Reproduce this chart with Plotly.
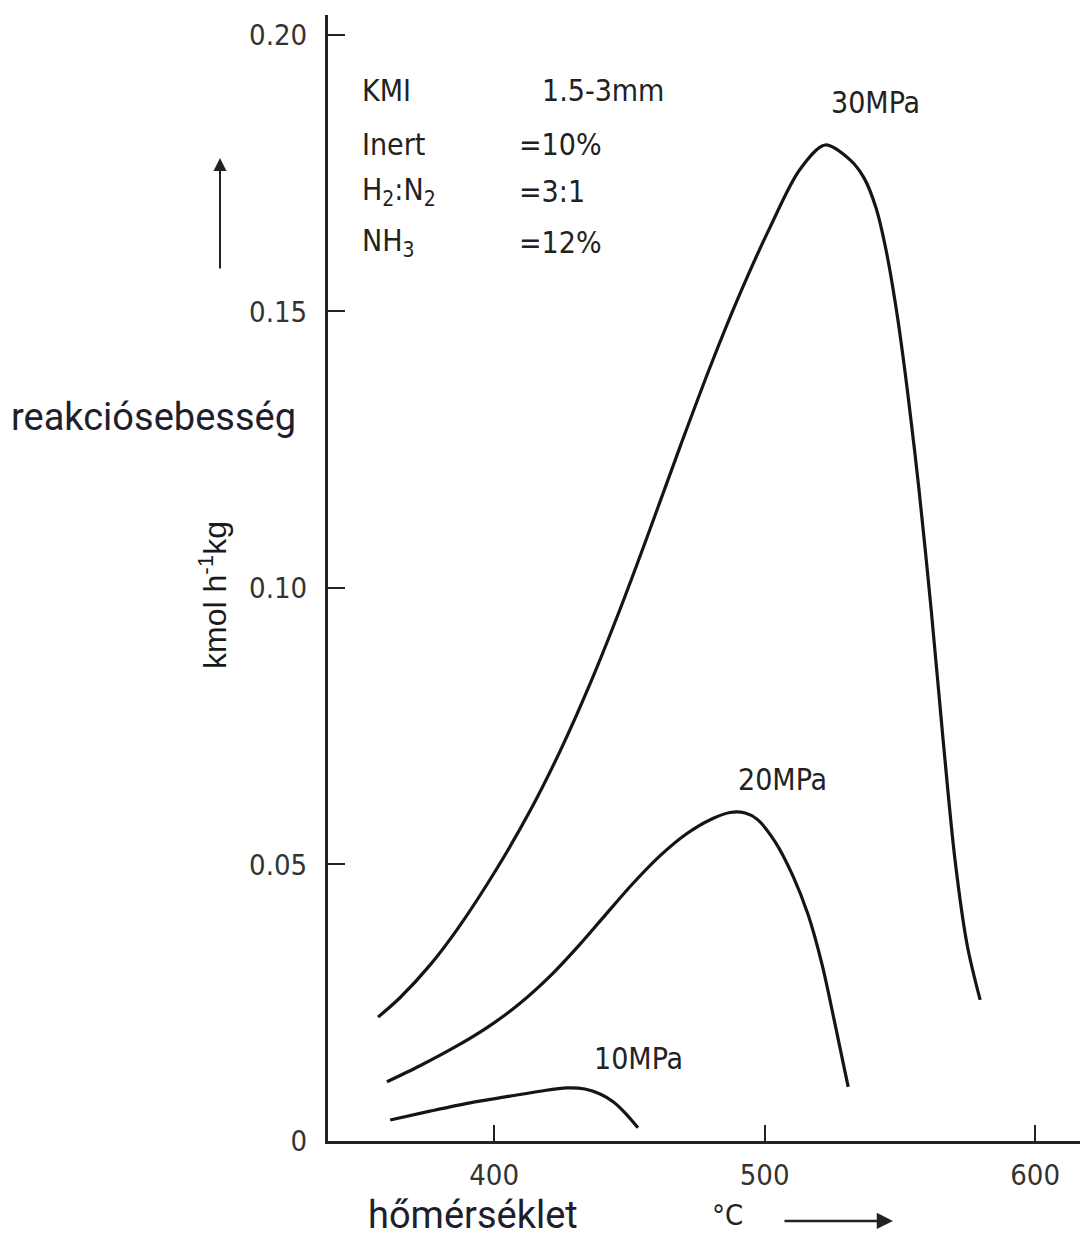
import plotly.graph_objects as go

# Reaction rate of ammonia synthesis vs. temperature at three pressures
temp_30 = [357.1, 365.2, 376.3, 386.7, 400.7, 413.3, 424.4, 435.5, 446.6, 457.7, 468.8,
           479.9, 490.9, 502.0, 513.1, 522.4, 531.6, 536.8, 541.2,
           544.9, 549.0, 553.0, 557.1, 561.6, 566.0, 570.4, 574.9, 579.7]
rate_30 = [0.0224, 0.0259, 0.0318, 0.0385, 0.0490, 0.0597, 0.0705, 0.0827, 0.0962, 0.1107, 0.1256,
           0.1400, 0.1532, 0.1652, 0.1757, 0.1801, 0.1774, 0.1741, 0.1687,
           0.1611, 0.1494, 0.1349, 0.1177, 0.0960, 0.0725, 0.0508, 0.0354, 0.0255]

temp_20 = [360.4, 372.6, 385.6, 397.4, 409.6, 420.7, 431.8, 441.0, 451.4, 461.4,
           471.3, 479.9, 487.2, 492.8, 497.2, 503.9, 510.5, 516.1, 521.3, 526.1, 530.9]
rate_20 = [0.0107, 0.0136, 0.0170, 0.0205, 0.0249, 0.0298, 0.0356, 0.0408, 0.0466, 0.0516,
           0.0556, 0.0581, 0.0594, 0.0593, 0.0582, 0.0541, 0.0479, 0.0409, 0.0318, 0.0210, 0.0098]

temp_10 = [361.6, 376.3, 391.1, 405.9, 417.0, 427.0, 433.6, 439.2, 444.0, 448.4, 453.2]
rate_10 = [0.0038, 0.0054, 0.0069, 0.0081, 0.0090, 0.0096, 0.0094, 0.0085, 0.0071, 0.0051, 0.0024]

pressure_labels = ["30MPa", "20MPa", "10MPa"]
label_pos = [(540.9, 0.1877), (506.5, 0.0653), (453.2, 0.0150)]

x_ticks = [400, 500, 600]
y_ticks = [0, 0.05, 0.10, 0.15, 0.20]
y_tick_text = ["0", "0.05", "0.10", "0.15", "0.20"]

conditions = [("KMI", "1.5-3mm"), ("Inert", "=10%"),
              ("H<sub>2</sub>:N<sub>2</sub>", "=3:1"), ("NH<sub>3</sub>", "=12%")]
cond_y = [0.1900, 0.1801, 0.1716, 0.1624]

DIN = "Liberation Sans Narrow, DejaVu Sans Condensed, Roboto Condensed, Roboto, sans-serif"
SANS = "Roboto, Liberation Sans, sans-serif"
INK = "#151515"

fig = go.Figure()
for tx, ry in [(temp_30, rate_30), (temp_20, rate_20), (temp_10, rate_10)]:
    fig.add_trace(go.Scatter(x=tx, y=ry, mode="lines",
                             line=dict(color=INK, width=3.2, shape="spline", smoothing=0.9),
                             showlegend=False, hoverinfo="skip"))

ann = []
for txt, (lx, ly) in zip(pressure_labels, label_pos):
    ann.append(dict(x=lx, y=ly, xref="x", yref="y", text=txt, showarrow=False,
                    xanchor="center", yanchor="middle",
                    font=dict(family=DIN, size=30, color="#222")))

for (left, right), cy in zip(conditions, cond_y):
    ann.append(dict(x=350.5, y=cy, xref="x", yref="y", text=left, showarrow=False,
                    xanchor="left", yanchor="middle",
                    font=dict(family=DIN, size=30, color="#222")))
    ann.append(dict(x=417.0 if right.startswith("1.5") else 408.5, y=cy, xref="x", yref="y",
                    text=right, showarrow=False, xanchor="left", yanchor="middle",
                    font=dict(family=DIN, size=30, color="#222")))

# axis titles and direction arrows
ann += [
    dict(x=-0.0399, y=0.643, xref="paper", yref="paper", text="reakciósebesség",
         showarrow=False, xanchor="right", yanchor="middle",
         font=dict(family=SANS, size=38, color="#1e1e2c")),
    dict(x=-0.1529, y=0.4849, xref="paper", yref="paper", text="kmol h<sup>-1</sup>kg",
         showarrow=False, textangle=-90, xanchor="center", yanchor="middle",
         font=dict(family="Liberation Sans, Arial, sans-serif", size=32, color="#1a1a1a")),
    dict(x=-0.1436, y=0.873, xref="paper", yref="paper", text="", showarrow=True,
         ax=0, ay=112, arrowhead=2, arrowsize=1.3, arrowwidth=2, arrowcolor="#222"),
    dict(x=0.1928, y=-0.0657, xref="paper", yref="paper", text="hőmérséklet",
         showarrow=False, xanchor="center", yanchor="middle",
         font=dict(family=SANS, size=38, color="#1e1e2c")),
    dict(x=0.5306, y=-0.0657, xref="paper", yref="paper", text="°C",
         showarrow=False, xanchor="center", yanchor="middle",
         font=dict(family=DIN, size=29, color="#222")),
    dict(x=0.7513, y=-0.071, xref="paper", yref="paper", text="", showarrow=True,
         ax=-110, ay=0, arrowhead=2, arrowsize=1.3, arrowwidth=2.5, arrowcolor="#222"),
]

fig.update_layout(
    width=1080, height=1233,
    margin=dict(l=328, r=0, t=15, b=92),
    paper_bgcolor="white", plot_bgcolor="white",
    annotations=ann,
    xaxis=dict(range=[338.6, 616.6], tickvals=x_ticks, ticks="inside", ticklen=16,
               tickwidth=2, tickcolor="#222", showline=True, linewidth=3, linecolor="#222",
               showgrid=False, zeroline=False, ticklabelstandoff=6,
               tickfont=dict(family=DIN, size=29, color="#333")),
    yaxis=dict(range=[0, 0.2036], tickvals=y_ticks, ticktext=y_tick_text, ticks="inside",
               ticklen=17, tickwidth=2, tickcolor="#222", showline=True, linewidth=3,
               linecolor="#222", showgrid=False, zeroline=False, ticklabelstandoff=12,
               tickfont=dict(family=DIN, size=29, color="#333")),
)

fig.write_html("out.html")
